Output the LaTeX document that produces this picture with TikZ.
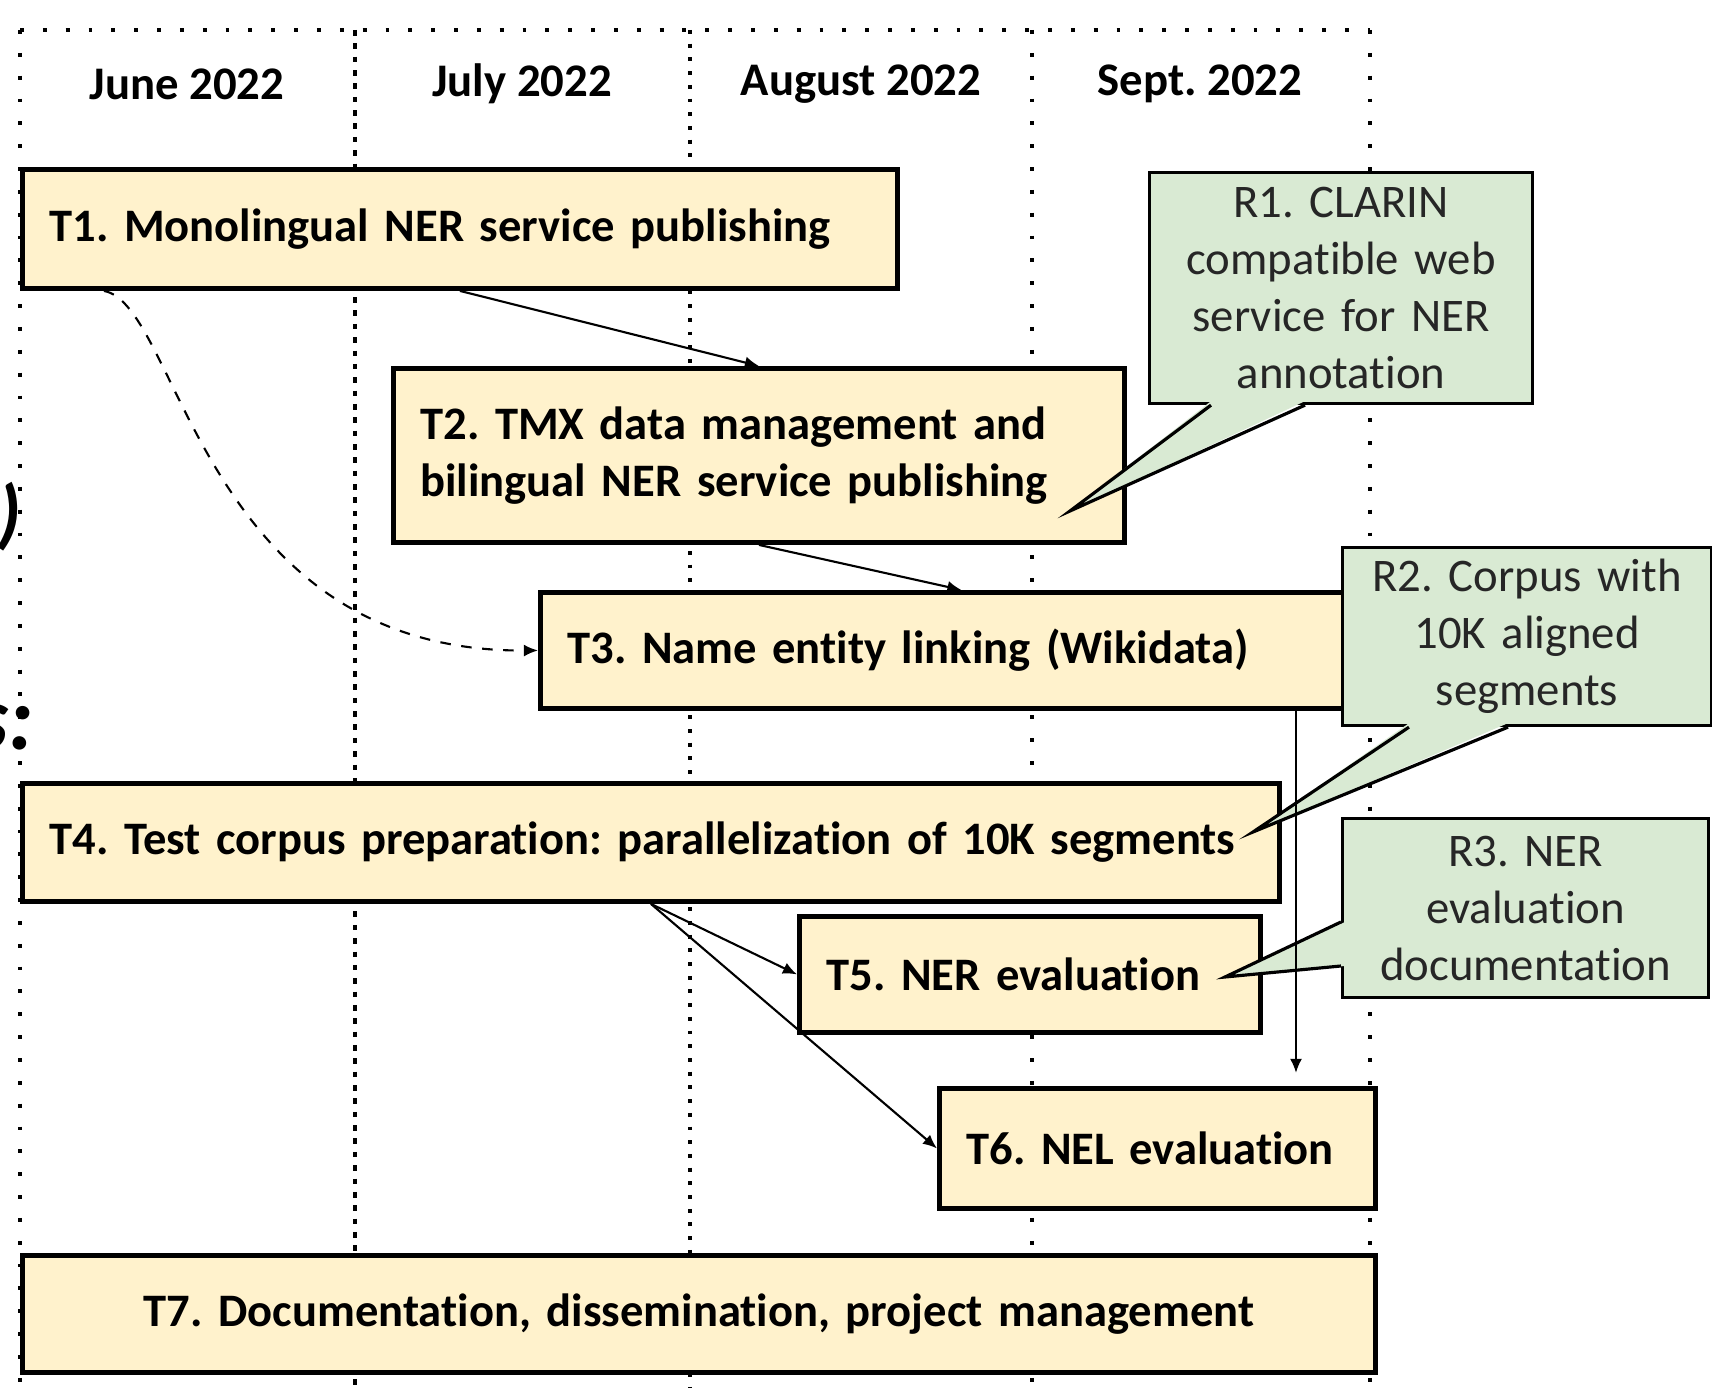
\documentclass[tikz,border=0pt]{standalone}
\usepackage{fontspec}
\setmainfont{Carlito}[Ligatures=NoCommon]
\frenchspacing
\usetikzlibrary{arrows.meta,positioning,shadows}

\definecolor{taskfill}{HTML}{FFF2CC}
\definecolor{notefill}{HTML}{D9EAD3}
\definecolor{notetext}{HTML}{262626}

\tikzset{
  task/.style={draw=black, line width=1.4pt, fill=taskfill, align=left,
    font=\bfseries\fontsize{13.25}{16.4}\selectfont, inner xsep=2.7mm, inner ysep=0pt,
    anchor=north west, drop shadow={shadow xshift=0.5pt, shadow yshift=-0.6pt, fill=black!55, opacity=1}},
  note/.style={draw=black, line width=0.9pt, fill=notefill, text=notetext, align=center,
    font=\fontsize{13.3}{16.2}\selectfont, inner sep=0pt, anchor=north west},
  note edge/.style={draw=black, line width=0.9pt},
  month/.style={font=\bfseries\fontsize{13.3}{16}\selectfont},
  grid line/.style={line width=1.1pt, dash pattern=on 1.1pt off 5.4pt},
  link/.style={line width=0.6pt, -{Latex[length=4pt,width=3.4pt]}},
}

\begin{document}
\begin{tikzpicture}[x=0.1mm,y=-0.1mm]
  \useasboundingbox (0,0) rectangle (1712,1388);

  % month grid
  \draw[grid line] (20,30) -- (1370,30);
  \draw[grid line] (20,30) -- (20,1388);
  \draw[grid line, dash pattern=on 1.6pt off 2.2pt] (355,30) -- (355,1388);
  \draw[grid line, dash pattern=on 1.1pt off 2.8pt] (690,30) -- (690,1388);
  \draw[grid line] (1032,30) -- (1032,1388);
  \draw[grid line] (1370,30) -- (1370,1388);

  \node[month] (jun) at (187,84) {June 2022};
  \node[month] (jul) at (522,84) {July 2022};
  \node[month] (aug) at (861,84) {August 2022};
  \node[month] (sep) at (1200,84) {Sept. 2022};

  % tasks
  \node[task, text width=82.1mm, minimum height=11.9mm] (T1) at (20,167)
    {T1. Monolingual NER service publishing};
  \node[task, text width=67.7mm, minimum height=17.4mm] (T2) at (391,366)
    {T2. TMX data management and\\bilingual NER service publishing};
  \node[task, text width=78.8mm, minimum height=11.6mm] (T3) at (538,590)
    {T3. Name entity linking (Wikidata)};
  \node[task, text width=120.3mm, minimum height=11.8mm] (T4) at (20,781)
    {T4. Test corpus preparation: parallelization of 10K segments};
  \node[task, text width=40.7mm, minimum height=11.6mm] (T5) at (797,914)
    {T5. NER evaluation};
  \node[task, text width=38.2mm, minimum height=12mm] (T6) at (937,1086)
    {T6. NEL evaluation};
  \node[task, text width=129.9mm, minimum height=11.7mm, align=center] (T7) at (20,1253)
    {T7. Documentation, dissemination, project management};

  % results
  \node[note, text width=38.3mm, minimum height=23.1mm] (R1) at (1148,171)
    {R1. CLARIN\\compatible web\\service for NER\\annotation};
  \fill[notefill] ([xshift=6.3mm,yshift=0.4mm]R1.south west) -- (1070,511)
    -- ([xshift=15.7mm,yshift=0.4mm]R1.south west) -- cycle;
  \draw[note edge] ([xshift=6.3mm]R1.south west) -- (1070,511) -- ([xshift=15.7mm]R1.south west);

  \node[note, text width=36.9mm, minimum height=17.8mm] (R2) at (1341,546)
    {R2. Corpus with\\10K aligned\\segments};
  \fill[notefill] ([xshift=6.8mm,yshift=0.4mm]R2.south west) -- (1253,832)
    -- ([xshift=16.7mm,yshift=0.4mm]R2.south west) -- cycle;
  \draw[note edge] ([xshift=6.8mm]R2.south west) -- (1253,832) -- ([xshift=16.7mm]R2.south west);

  \node[note, text width=36.6mm, minimum height=17.9mm] (R3) at (1341,817)
    {R3. NER\\evaluation\\documentation};
  \fill[notefill] ([xshift=0.4mm,yshift=-10.5mm]R3.north west) -- (1225,977)
    -- ([xshift=0.4mm,yshift=-14.9mm]R3.north west) -- cycle;
  \draw[note edge] ([yshift=-10.5mm]R3.north west) -- (1225,977) -- ([yshift=-14.9mm]R3.north west);

  % dependencies
  \coordinate (drop) at (1296,0);
  \draw[link] (T1.south) -- (T2.north);
  \draw[link] (T2.south) -- (T3.north);
  \draw[link, dashed] ([xshift=8.4mm]T1.south west) .. controls +(76,14) and +(-338,2) .. (T3.west);
  \draw[link] (drop |- T3.south) -- (drop |- T6.north) [shorten >=1.3mm];
  \draw[link] (T4.south) -- (T5.west);
  \draw[link] (T4.south) -- (T6.west);

  % cut-off slide text at the left edge
  \node[anchor=base east, inner sep=0pt, font=\bfseries\itshape\fontsize{22}{26}\selectfont] (paren) at (22,540) {)};
  \node[anchor=base east, inner sep=0pt, font=\bfseries\itshape\fontsize{26}{30}\selectfont] (colon) at (34,750) {s:};
\end{tikzpicture}
\end{document}
